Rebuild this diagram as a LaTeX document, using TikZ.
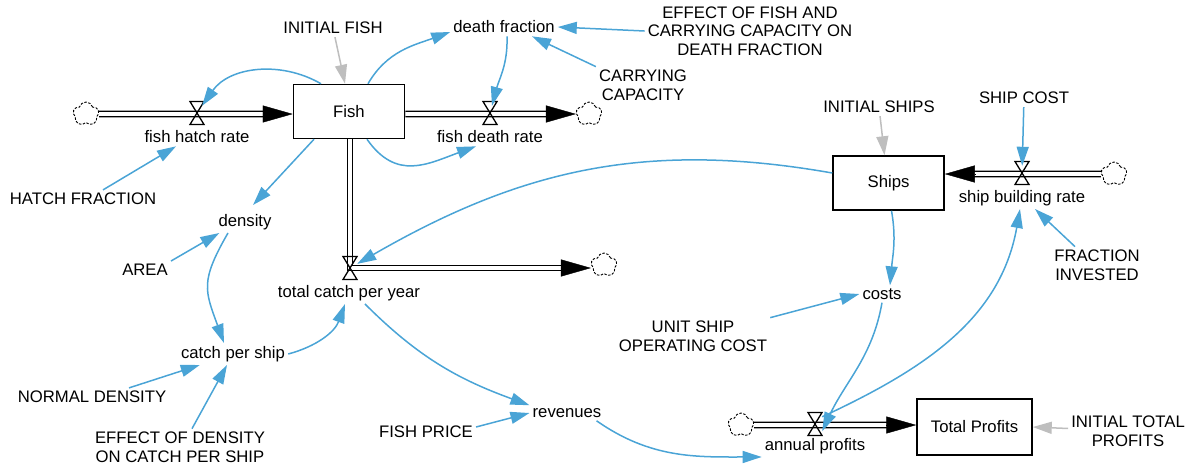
\documentclass[tikz,border=0pt]{standalone}
\usepackage{fontspec}
\setmainfont{Liberation Sans}
\usetikzlibrary{arrows.meta,shapes.symbols}

\definecolor{linkblue}{RGB}{74,164,214}
\definecolor{initgray}{RGB}{190,190,190}

\tikzset{
	stock/.style={draw, line width=1.5pt, minimum width=111pt, minimum height=54pt},
	valve/.style={inner sep=0pt, minimum size=14pt},
	valveline/.style={line width=1.3pt},
	sink/.style={cloud, cloud puffs=5, cloud puff arc=150, draw, dash pattern=on 2.5pt off 1.5pt, line width=0.9pt, minimum width=26pt, minimum height=24pt, inner sep=0pt},
	pipe/.style={line width=1.5pt, double=white, double distance=3.6pt, shorten >=28pt},
	flowtip/.style={-{Triangle[length=30pt,width=17pt]}, line width=0.4pt},
	infoarrow/.style={linkblue, line width=1.5pt, -{Triangle[length=19pt,width=12pt]}},
	initlink/.style={infoarrow, initgray},
}

\begin{document}
\begin{tikzpicture}[x=1pt, y=1pt, every node/.style={font=\fontsize{16.7}{18.5}\selectfont, inner sep=3pt}]
	\useasboundingbox (0,0) rectangle (1188,-467);

	% stocks
	\node[stock] (fish) at (349,-111.5) {Fish};
	\node[stock] (ships) at (888.5,-183) {Ships};
	\node[stock, minimum width=115pt, minimum height=56pt] (profits) at (974.5,-427) {Total Profits};

	% valves and clouds
	\node[valve] (vhatch) at (197,-113) {};
	\node[valve] (vdeath) at (490,-113) {};
	\node[valve] (vcatch) at (350,-268) {};
	\node[valve] (vbuild) at (1022,-173) {};
	\node[valve] (vprofit) at (815,-424) {};
	\node[sink] (c1) at (86,-114) {};
	\node[sink] (c2) at (589,-114) {};
	\node[sink] (c3) at (604,-265) {};
	\node[sink] (c4) at (1114,-174) {};
	\node[sink] (c5) at (741,-425) {};

	% pipes
	\draw[pipe] (c1) -- (c1 -| fish.west);
	\draw[flowtip] ([xshift=-30pt]c1 -| fish.west) -- (c1 -| fish.west);
	\draw[pipe] (fish.east |- c2) -- (c2);
	\draw[flowtip] ([xshift=-30pt]c2.west) -- (c2.west);
	\draw[pipe] (fish.south -| vcatch) -- (vcatch.center) -- (vcatch -| c3.west);
	\draw[flowtip] ([xshift=-30pt]vcatch -| c3.west) -- (vcatch -| c3.west);
	\draw[pipe] (c4) -- (c4 -| ships.east);
	\draw[flowtip] ([xshift=30pt]c4 -| ships.east) -- (c4 -| ships.east);
	\draw[pipe] (c5) -- (c5 -| profits.west);
	\draw[flowtip] ([xshift=-30pt]c5 -| profits.west) -- (c5 -| profits.west);
	\foreach \v in {vhatch,vdeath,vcatch,vbuild,vprofit}
	{
		\draw[valveline] (\v.center) ++(-7,11.5) -- ++(14,0) -- ++(-14,-23) -- ++(14,0) -- cycle;
	}

	% names
	\node (initfish) at (333,-28) {INITIAL FISH};
	\node (deathfrac) at (504,-27) {death fraction};
	\node[align=center] (effectfish) at (750,-31) {EFFECT OF FISH AND\\CARRYING CAPACITY ON\\DEATH FRACTION};
	\node[align=center] (carrycap) at (643,-85) {CARRYING\\CAPACITY};
	\node (lblhatch) at (197,-137) {fish hatch rate};
	\node (lbldeath) at (490,-137) {fish death rate};
	\node (hatchfrac) at (83,-199) {HATCH FRACTION};
	\node (density) at (245,-222) {density};
	\node (area) at (145,-270) {AREA};
	\node (lblcatch) at (349,-293) {total catch per year};
	\node (catchship) at (233,-354) {catch per ship};
	\node (normdens) at (92,-397) {NORMAL DENSITY};
	\node[align=center] (effdens) at (180,-447) {EFFECT OF DENSITY\\ON CATCH PER SHIP};
	\node (revenues) at (567,-413) {revenues};
	\node (fishprice) at (426,-432) {FISH PRICE};
	\node (initships) at (879,-107) {INITIAL SHIPS};
	\node (shipcost) at (1024,-98) {SHIP COST};
	\node (lblbuild) at (1022,-198) {ship building rate};
	\node[align=center] (fracinv) at (1097,-265) {FRACTION\\INVESTED};
	\node (costs) at (882,-294) {costs};
	\node[align=center] (unitcost) at (693,-336) {UNIT SHIP\\OPERATING COST};
	\node (lblprofit) at (815,-446) {annual profits};
	\node[align=center] (inittp) at (1128,-431) {INITIAL TOTAL\\PROFITS};

	% links
	\draw[initlink] (initfish) -- ([xshift=-4pt]fish.north);
	\draw[infoarrow] ([xshift=19pt]fish.north) to[out=60,in=200] ([yshift=-5pt]deathfrac.west);
	\draw[infoarrow] ([xshift=-28pt]fish.north) to[out=150,in=55] (vhatch);
	\draw[infoarrow] ([xshift=3pt]deathfrac.south) to[out=-88,in=75] (vdeath);
	\draw[infoarrow] (effectfish.west) -- (deathfrac.east);
	\draw[infoarrow] (carrycap.north west) -- ([xshift=28pt]deathfrac.south);
	\draw[infoarrow] ([xshift=20pt]hatchfrac.north) -- ([xshift=-21pt]lblhatch.south);
	\draw[infoarrow] ([xshift=18pt]fish.south) to[out=-55,in=200,looseness=1.2] ([xshift=-14pt]lbldeath.south);
	\draw[infoarrow] ([xshift=-35pt]fish.south) -- ([xshift=8pt,yshift=6pt]density.north);
	\draw[infoarrow] (area.north east) -- ([xshift=4pt]density.south west);
	\draw[infoarrow] ([xshift=-17pt]density.south) to[out=-120,in=110,looseness=1.3] ([xshift=-9pt]catchship.north);
	\draw[infoarrow] (catchship.east) to[out=15,in=-110] ([xshift=-4pt]lblcatch.south);
	\draw[infoarrow] ([xshift=37pt]normdens.north) -- ([xshift=22pt]catchship.south west);
	\draw[infoarrow] ([xshift=12pt]effdens.north) -- ([xshift=-6pt]catchship.south);
	\draw[infoarrow] ([xshift=16pt]lblcatch.south) to[out=-45,in=160] (revenues.north west);
	\draw[infoarrow] ([yshift=5pt]fishprice.east) -- (revenues.west);
	\draw[infoarrow] ([xshift=-8pt]revenues.south east) to[out=-35,in=180] (lblprofit.south west);
	\draw[infoarrow] ([yshift=10pt]ships.west) to[out=170,in=30] (vcatch);
	\draw[infoarrow] (shipcost) -- (vbuild);
	\draw[initlink] (initships) -- ([xshift=-4pt]ships.north);
	\draw[infoarrow] ([xshift=3pt]ships.south) to[out=-80,in=85] ([xshift=8pt]costs.north);
	\draw[infoarrow] (unitcost.north east) -- (costs.west);
	\draw[infoarrow] (costs.south) to[out=-100,in=65] (vprofit.south east);
	\draw[infoarrow] (vprofit.north east) to[out=25,in=-100] ([xshift=-2pt]lblbuild.south);
	\draw[infoarrow] ([xshift=-22pt]fracinv.north) -- ([xshift=13pt]lblbuild.south);
	\draw[initlink] (inittp) -- (profits.east);

\end{tikzpicture}
\end{document}
